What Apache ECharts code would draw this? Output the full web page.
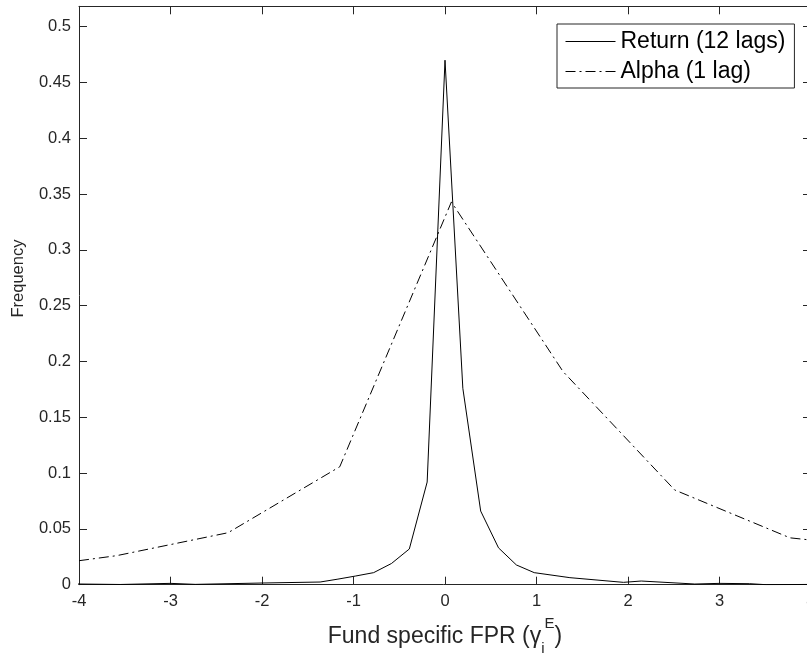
<!DOCTYPE html>
<html>
<head>
<meta charset="utf-8">
<script src="https://cdn.jsdelivr.net/npm/echarts@6/dist/echarts.min.js"></script>
<style>
  html, body { margin: 0; padding: 0; background: #fff; }
  #chart { width: 807px; height: 654px; }
</style>
</head>
<body>
<div id="chart"></div>
<script>
// ---- Data ----
var returnX = [-4.1, -3.55, -3.0, -2.73, -2.0, -1.365, -1.17, -0.975, -0.78, -0.585, -0.39, -0.195, 0, 0.195, 0.39, 0.585, 0.78, 0.975, 1.365, 1.95, 2.145, 2.73, 3.0, 3.33, 3.51, 4.1];
var returnY = [0.0007, 0.0002, 0.0012, 0.0003, 0.0015, 0.0024, 0.005, 0.0078, 0.0108, 0.019, 0.032, 0.092, 0.470, 0.176, 0.066, 0.033, 0.0177, 0.0108, 0.0063, 0.0021, 0.0033, 0.0006, 0.0012, 0.0009, 0.0, 0.0003];

var alphaX = [-4.0, -3.59, -2.37, -1.15, 0.07, 1.29, 2.51, 3.77, 4.0];
var alphaY = [0.0215, 0.026, 0.0466, 0.1057, 0.343, 0.191, 0.0849, 0.042, 0.040];

var seriesNames = ['Return (12 lags)', 'Alpha (1 lag)'];
var xTicks = [-4, -3, -2, -1, 0, 1, 2, 3, 4];
var yTickStep = 0.05;
var xLabel = 'Fund specific FPR (';
var yLabel = 'Frequency';

function pairs(xs, ys) {
  var out = [];
  for (var i = 0; i < xs.length; i++) out.push([xs[i], ys[i]]);
  return out;
}

var FONT = "'Liberation Sans', Arial, Helvetica, sans-serif";
var AX = '#262626';

var chart = echarts.init(document.getElementById('chart'), null, { renderer: 'canvas' });

var option = {
  animation: false,
  backgroundColor: '#ffffff',
  textStyle: { fontFamily: FONT },
  grid: { left: 79, top: 6.3, width: 732, height: 578.4, containLabel: false, outerBoundsMode: 'none' },
  legend: {
    left: 557, top: 24,
    orient: 'vertical',
    backgroundColor: '#ffffff',
    borderColor: AX, borderWidth: 1,
    padding: [6, 9, 5, 8],
    itemGap: 7,
    itemWidth: 50, itemHeight: 14,
    itemStyle: { opacity: 0, borderWidth: 0 },
    lineStyle: { width: 1 },
    textStyle: { fontSize: 23, color: '#000', fontFamily: FONT },
    data: seriesNames
  },
  xAxis: [{
    type: 'value', position: 'bottom',
    min: xTicks[0], max: xTicks[xTicks.length - 1], interval: 1,
    axisLine: { onZero: false, lineStyle: { color: AX, width: 1 } },
    axisTick: { inside: true, length: 8, lineStyle: { color: AX } },
    axisLabel: { margin: 8, fontSize: 16.5, color: AX, fontFamily: FONT },
    splitLine: { show: false },
    name: '{m|' + xLabel + 'γ}{s|i}{p|E}{m|)}',
    nameLocation: 'middle', nameGap: 32,
    nameTextStyle: {
      color: AX, fontFamily: FONT,
      rich: {
        m: { fontSize: 23, lineHeight: 40, color: AX, fontFamily: FONT },
        s: { fontSize: 15, lineHeight: 15, verticalAlign: 'bottom', color: AX, fontFamily: FONT },
        p: { fontSize: 15, lineHeight: 15, verticalAlign: 'top', color: AX, fontFamily: FONT }
      }
    }
  }, {
    type: 'value', position: 'top',
    min: xTicks[0], max: xTicks[xTicks.length - 1], interval: 1,
    axisLine: { onZero: false, lineStyle: { color: AX, width: 1 } },
    axisTick: { inside: true, length: 8, lineStyle: { color: AX } },
    axisLabel: { show: false },
    splitLine: { show: false }
  }],
  yAxis: [{
    type: 'value', position: 'left',
    min: 0, max: 0.5183, interval: yTickStep,
    axisLine: { show: true, onZero: false, lineStyle: { color: AX, width: 1 } },
    axisTick: { show: true, inside: true, length: 8, lineStyle: { color: AX } },
    axisLabel: { margin: 8, fontSize: 16.5, color: AX, fontFamily: FONT, showMaxLabel: false },
    splitLine: { show: false },
    name: yLabel, nameLocation: 'middle', nameRotate: 90, nameGap: 52,
    nameTextStyle: { fontSize: 16.5, color: AX, fontFamily: FONT, padding: [0, 0, 0, 34] }
  }, {
    type: 'value', position: 'right',
    min: 0, max: 0.5183, interval: yTickStep,
    axisLine: { show: true, onZero: false, lineStyle: { color: AX, width: 1 } },
    axisTick: { show: true, inside: true, length: 8, lineStyle: { color: AX } },
    axisLabel: { show: false },
    splitLine: { show: false }
  }],
  series: [{
    name: seriesNames[0], type: 'line',
    xAxisIndex: 0, yAxisIndex: 0,
    data: pairs(returnX, returnY),
    showSymbol: false, symbol: 'none',
    clip: true,
    lineStyle: { color: '#000', width: 1, type: 'solid' },
    itemStyle: { color: '#000' }
  }, {
    name: seriesNames[1], type: 'line',
    xAxisIndex: 0, yAxisIndex: 0,
    data: pairs(alphaX, alphaY),
    showSymbol: false, symbol: 'none',
    clip: true,
    lineStyle: { color: '#000', width: 1, type: [10, 4, 2, 4] },
    itemStyle: { color: '#000' }
  }]
};
chart.setOption(option);
</script>
</body>
</html>
